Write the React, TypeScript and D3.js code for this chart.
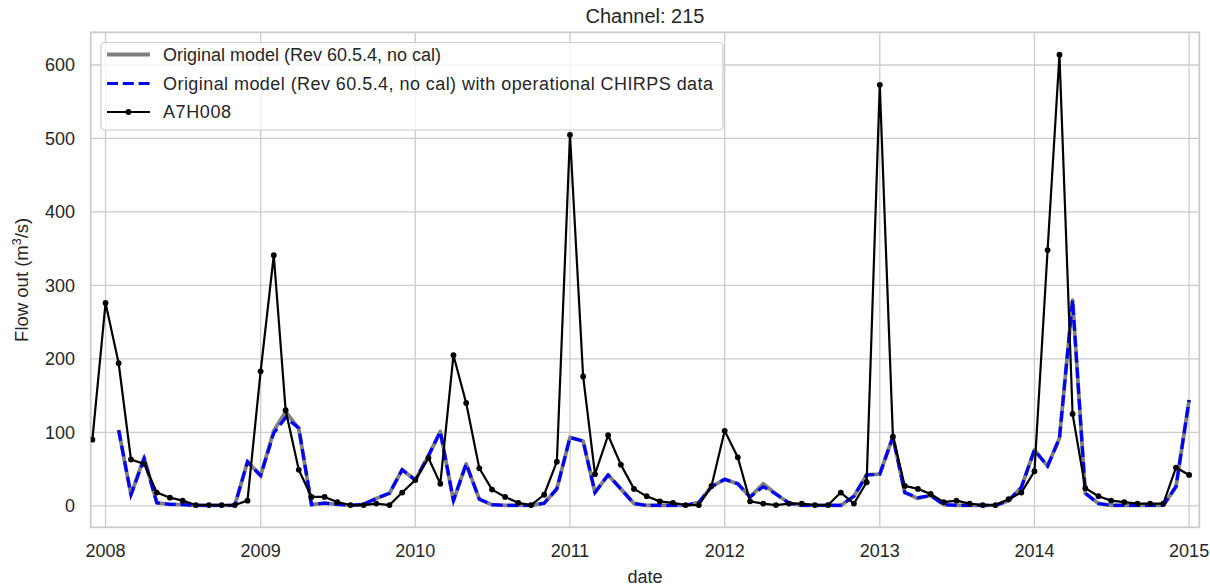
import React from "react";
import * as d3 from "d3";

// ---- data ----
const obsStart = [2007, 11]; // Dec 2007 (month index 0-based)
const obsValues = [
  90,
  276, 194, 63, 57, 18, 11, 7, 1, 1, 1, 1, 7,
  183, 341, 130, 49, 12, 12, 5, 1, 1, 3, 1, 18,
  35, 65, 30, 205, 140, 51, 22, 12, 4, 1, 15, 60,
  505, 176, 43, 96, 56, 23, 13, 6, 4, 1, 1, 27,
  102, 66, 6, 3, 1, 3, 3, 1, 1, 18, 3, 32,
  573, 94, 27, 23, 16, 5, 7, 3, 1, 1, 9, 18,
  47, 348, 614, 125, 24, 13, 7, 5, 3, 3, 3, 52,
  42,
];
const modelStart = [2008, 1]; // Feb 2008
const chirpsValues = [
  103, 15, 64, 4, 2, 1.5, 0.5, 0.5, 0.5, 0.5, 60,
  41, 99, 120, 106, 1.5, 3.5, 2, 0.5, 2, 10, 17, 49,
  35, 68, 101, 7, 57, 9, 1.5, 0.5, 0.5, 0.5, 3.5, 23,
  93, 88, 18, 42, 23, 3, 0.5, 0.5, 0.5, 0.5, 4.5, 26,
  36, 30, 12, 26, 16, 3.5, 0.5, 0.5, 0.5, 0.5, 13, 42,
  43, 94, 18, 11, 14, 1.5, 0.5, 0.5, 0.5, 0.5, 7, 25,
  76, 54, 92, 280, 17, 3, 0.5, 0.5, 0.5, 0.5, 0.5, 26,
  144,
];
const originalValues = [
  103, 15, 66, 4, 2, 1.5, 0.5, 0.5, 0.5, 0.5, 60,
  41, 102, 128, 105, 1.5, 3.5, 2, 0.5, 2, 10, 17, 49,
  35, 68, 101, 7, 57, 9, 1.5, 0.5, 0.5, 0.5, 3.5, 23,
  93, 88, 18, 42, 23, 3, 0.5, 0.5, 0.5, 0.5, 4.5, 26,
  36, 30, 12, 30, 16, 3.5, 0.5, 0.5, 0.5, 0.5, 13, 42,
  43, 94, 18, 10, 14, 1.5, 0.5, 0.5, 0.5, 0.5, 7, 25,
  76, 54, 92, 280, 17, 3, 0.5, 0.5, 0.5, 0.5, 0.5, 26,
  144,
];
const yTicks = [0, 100, 200, 300, 400, 500, 600];
const xTickYears = [2008, 2009, 2010, 2011, 2012, 2013, 2014, 2015];
const legendLabels = [
  "Original model (Rev 60.5.4, no cal)",
  "Original model (Rev 60.5.4, no cal) with operational CHIRPS data",
  "A7H008",
];

type Pt = { date: Date; value: number };
function toSeries(start: number[], vals: number[]): Pt[] {
  return vals.map((v, i) => ({ date: new Date(Date.UTC(start[0], start[1] + i, 1)), value: v }));
}

const W = 1210, H = 588;
const L = 90.7, R = 1199.3, T = 32.3, B = 527.3;
const FONT = "'Liberation Sans', Arial, sans-serif";
const TXT = "#262626";
const GRID = "#cccccc";

export default function App() {
  const x = d3.scaleUtc()
    .domain([new Date(Date.UTC(2007, 10, 27)), new Date(Date.UTC(2015, 0, 25))])
    .range([L, R]);
  const y = d3.scaleLinear().domain([-29.3, 644.5]).range([B, T]);

  const obs = toSeries(obsStart, obsValues);
  const chirps = toSeries(modelStart, chirpsValues);
  const orig = toSeries(modelStart, originalValues);

  const line = d3.line<Pt>().x((d) => x(d.date)).y((d) => y(d.value));

  const legendRows = [54.5, 83.5, 112];
  const legendLens = [278, 550, 68];

  return (
    <svg width={W} height={H} style={{ position: "absolute", left: 0, top: 0, background: "#fff" }} fontFamily={FONT}>
      <rect x={0} y={0} width={W} height={H} fill="#fff" />
      <defs>
        <clipPath id="plot">
          <rect x={L} y={T} width={R - L} height={B - T} />
        </clipPath>
      </defs>
      {/* grid */}
      {yTicks.map((t) => (
        <line key={"gy" + t} x1={L} x2={R} y1={y(t)} y2={y(t)} stroke={GRID} strokeWidth={1.3} />
      ))}
      {xTickYears.map((yr) => {
        const px = x(new Date(Date.UTC(yr, 0, 1)));
        return <line key={"gx" + yr} x1={px} x2={px} y1={T} y2={B} stroke={GRID} strokeWidth={1.3} />;
      })}
      {/* frame */}
      <rect x={L} y={T} width={R - L} height={B - T} fill="none" stroke={GRID} strokeWidth={1.8} />

      {/* series */}
      <g clipPath="url(#plot)">
        <path d={line(orig) || ""} fill="none" stroke="#808080" strokeWidth={3.8} strokeLinejoin="round" />
        <path d={line(chirps) || ""} fill="none" stroke="#0000ff" strokeWidth={3.2} strokeDasharray="11,4.8" />
        <path d={line(obs) || ""} fill="none" stroke="#000" strokeWidth={2.2} strokeLinejoin="round" />
        {obs.map((d, i) => (
          <circle key={i} cx={x(d.date)} cy={y(d.value)} r={2.9} fill="#000" />
        ))}
      </g>

      {/* y tick labels */}
      {yTicks.map((t) => (
        <text key={"ty" + t} x={75} y={y(t) + 6.3} textAnchor="end" fontSize={18} fill={TXT}>
          {t}
        </text>
      ))}
      {/* x tick labels */}
      {xTickYears.map((yr) => (
        <text key={"tx" + yr} x={x(new Date(Date.UTC(yr, 0, 1)))} y={557} textAnchor="middle" fontSize={18} fill={TXT}>
          {yr}
        </text>
      ))}
      {/* axis labels */}
      <text x={(L + R) / 2} y={583} textAnchor="middle" fontSize={18} fill={TXT}>date</text>
      <text transform={`translate(28,${(T + B) / 2}) rotate(-90)`} textAnchor="middle" fontSize={18.5} fill={TXT}>
        Flow out (m<tspan dy={-7} fontSize={12.5}>3</tspan><tspan dy={7}>/s)</tspan>
      </text>
      {/* title */}
      <text x={(L + R) / 2} y={22.5} textAnchor="middle" fontSize={20} fill={TXT}>Channel: 215</text>

      {/* legend */}
      <rect x={101} y={42.5} width={622} height={87.5} rx={4} fill="#fff" fillOpacity={0.8} stroke={GRID} strokeWidth={1.2} />
      <line x1={107} x2={150} y1={legendRows[0]} y2={legendRows[0]} stroke="#808080" strokeWidth={3.8} />
      <line x1={107} x2={150} y1={legendRows[1]} y2={legendRows[1]} stroke="#0000ff" strokeWidth={3.2} strokeDasharray="11,4.8" />
      <line x1={107} x2={150} y1={legendRows[2]} y2={legendRows[2]} stroke="#000" strokeWidth={2.2} />
      <circle cx={128.5} cy={legendRows[2]} r={2.9} fill="#000" />
      {legendLabels.map((lab, i) => (
        <text key={lab} x={163} y={legendRows[i] + 6.3} fontSize={18} fill={TXT}
          textLength={legendLens[i]} lengthAdjust="spacing">{lab}</text>
      ))}
    </svg>
  );
}
